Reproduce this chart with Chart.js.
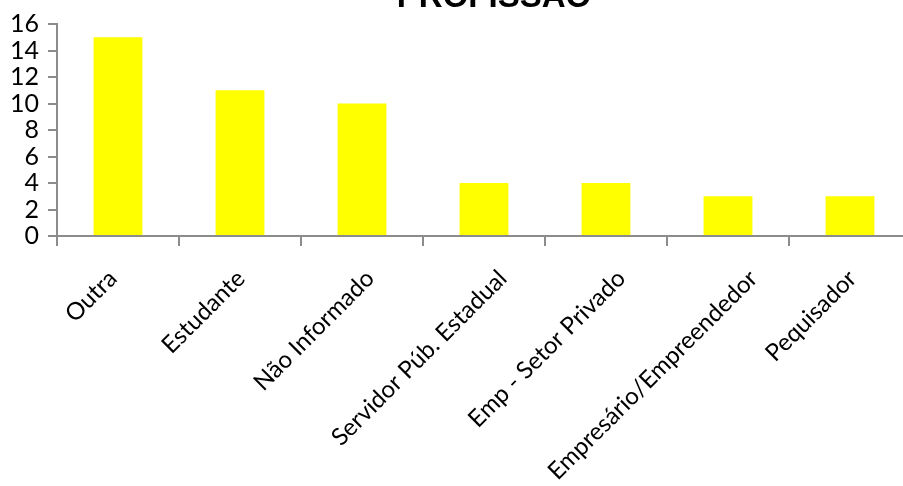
<!DOCTYPE html>
<html>
<head>
<meta charset="utf-8">
<script src="https://cdn.jsdelivr.net/npm/chart.js@4.4.1/dist/chart.umd.min.js"></script>
<style>
  html, body { margin: 0; padding: 0; background: #fff; overflow: hidden; width: 903px; height: 486px; }
  #wrap { position: absolute; left: 0; top: 0; width: 988px; height: 486px; }
  #titulo {
    position: absolute; left: 294px; width: 400px; top: -21px;
    text-align: center; font: bold 33px 'Liberation Sans', Arial, sans-serif; color: #000;
    line-height: 33px;
  }
</style>
</head>
<body>
<div id="wrap"><canvas id="chart" width="988" height="486"></canvas></div>
<div id="titulo">PROFISSÃO</div>
<script>
// categories and counts
const profissoes = ['Outra', 'Estudante', 'Não Informado', 'Servidor Púb. Estadual', 'Emp - Setor Privado', 'Empresário/Empreendedor', 'Pequisador'];
const quantidades = [15, 11, 10, 4, 4, 3, 3];
const yTicks = [0, 2, 4, 6, 8, 10, 12, 14, 16];

const axisGrey = '#8c8c8c';
const yFont = { family: 'Lato', size: 25 };
const xFontSize = 24;

// the x labels of the original sit a bit further right the longer they are,
// so they are drawn here by hand at the scale's tick pixels
const slantedLabels = {
  id: 'slantedLabels',
  afterDraw(chart) {
    const xs = chart.scales.x;
    const c = chart.ctx;
    c.save();
    c.font = xFontSize + 'px Lato';
    c.fillStyle = '#000';
    c.textAlign = 'right';
    c.textBaseline = 'top';
    xs.ticks.forEach((t, i) => {
      const txt = profissoes[i];
      const len = c.measureText(txt).width;
      const shift = 0.137 * len - 5;
      c.save();
      c.translate(xs.getPixelForTick(i) + shift - 17, xs.top + 30);
      c.rotate(-Math.PI / 4);
      c.fillText(txt, 0, 0);
      c.restore();
    });
    c.restore();
  }
};

const ctx = document.getElementById('chart').getContext('2d');

new Chart(ctx, {
  type: 'bar',
  data: {
    labels: profissoes,
    datasets: [{
      data: quantidades,
      backgroundColor: '#ffff00',
      borderWidth: 0,
      barPercentage: 0.4,
      categoryPercentage: 1.0
    }]
  },
  options: {
    responsive: false,
    animation: false,
    layout: { padding: { left: 0, right: 77, top: 23, bottom: 0 } },
    plugins: {
      legend: { display: false },
      tooltip: { enabled: false },
      title: { display: false }
    },
    scales: {
      x: {
        grid: { drawOnChartArea: false, drawTicks: true, tickLength: 10, color: axisGrey, lineWidth: 2 },
        border: { color: axisGrey, width: 2 },
        ticks: { display: false, autoSkip: false },
        afterFit: (scale) => { scale.height = 250; }
      },
      y: {
        min: 0,
        max: 16,
        afterBuildTicks: (scale) => { scale.ticks = yTicks.map(v => ({ value: v })); },
        grid: { drawOnChartArea: false, drawTicks: true, tickLength: 9, color: axisGrey, lineWidth: 2 },
        border: { color: axisGrey, width: 2 },
        ticks: {
          color: '#000',
          font: yFont,
          autoSkip: false,
          padding: 9
        },
        afterFit: (scale) => { scale.width = 57; }
      }
    }
  },
  plugins: [slantedLabels]
});
</script>
</body>
</html>
